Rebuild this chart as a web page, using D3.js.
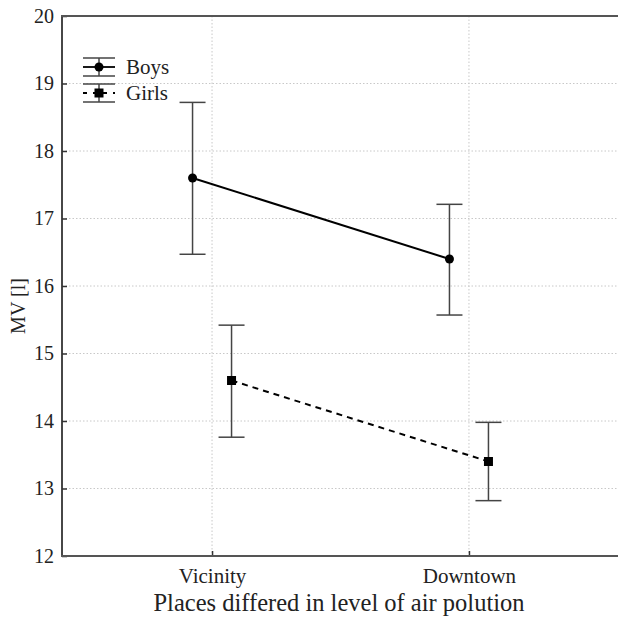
<!DOCTYPE html>
<html><head><meta charset="utf-8">
<script src="https://cdn.jsdelivr.net/npm/d3@7"></script>
<style>body{margin:0;background:#fff}svg{display:block}text{font-family:"Liberation Serif","Times New Roman",serif;fill:#222}</style>
</head><body><svg id="c" width="618" height="618"></svg>
<script>
const categories = ["Vicinity", "Downtown"];
const yTicks = [12, 13, 14, 15, 16, 17, 18, 19, 20];
const boysMean = [17.6, 16.4];
const boysLow = [16.47, 15.57];
const boysHigh = [18.72, 17.21];
const girlsMean = [14.6, 13.4];
const girlsLow = [13.76, 12.82];
const girlsHigh = [15.42, 13.98];
const seriesNames = ["Boys", "Girls"];

const svg = d3.select("#c");
const L = 62, R = 619, T = 16, B = 556;
const x = d3.scalePoint().domain(categories).range([L, R]).padding(0.584);
const y = d3.scaleLinear().domain([12, 20]).range([B, T]);

// grid
const g = svg.append("g");
g.selectAll(".gy").data(yTicks.slice(1, -1)).join("line")
  .attr("x1", L).attr("x2", R).attr("y1", d => y(d)).attr("y2", d => y(d))
  .attr("stroke", "#c8c8c8").attr("stroke-width", 1).attr("stroke-dasharray", "1.5,2");
g.selectAll(".gx").data(categories).join("line")
  .attr("x1", d => x(d)).attr("x2", d => x(d)).attr("y1", T).attr("y2", B)
  .attr("stroke", "#c8c8c8").attr("stroke-width", 1).attr("stroke-dasharray", "1.5,2");

// axes
const yAxis = d3.axisLeft(y).tickValues(yTicks).tickSize(-5).tickPadding(8).tickFormat(d3.format("d"));
const ya = svg.append("g").attr("transform", `translate(${L},0)`).call(yAxis);
ya.select(".domain").remove();
ya.selectAll("line").attr("stroke", "#333").attr("stroke-width", 1.5);
ya.selectAll("text").style("font-size", "20px").attr("fill", "#222");

const xAxis = d3.axisBottom(x).tickSize(-5).tickPadding(12);
const xa = svg.append("g").attr("transform", `translate(0,${B})`).call(xAxis);
xa.select(".domain").remove();
xa.selectAll("line").attr("stroke", "#333").attr("stroke-width", 1.5);
xa.selectAll("text").style("font-size", "21px").attr("fill", "#222");

svg.append("line").attr("x1", L).attr("x2", L).attr("y1", T).attr("y2", B).attr("stroke", "#333").attr("stroke-width", 1.8);
svg.append("line").attr("x1", L - 1).attr("x2", R).attr("y1", B).attr("y2", B).attr("stroke", "#555").attr("stroke-width", 1.8);
svg.append("line").attr("x1", L - 1).attr("x2", R).attr("y1", T).attr("y2", T).attr("stroke", "#555").attr("stroke-width", 1.8);

// titles
svg.append("text").attr("x", 339).attr("y", 611).attr("text-anchor", "middle")
  .style("font-size", "24.5px").text("Places differed in level of air polution");
svg.append("text").attr("transform", `translate(25,${(T + B) / 2 + 20}) rotate(-90)`).attr("text-anchor", "middle")
  .style("font-size", "20px").text("MV [l]");

// series
const series = [
  {name: seriesNames[0], mean: boysMean, lo: boysLow, hi: boysHigh, off: -19.5, dash: null, shape: "circle"},
  {name: seriesNames[1], mean: girlsMean, lo: girlsLow, hi: girlsHigh, off: 19.5, dash: "6,5", shape: "square"}
];
const capW = 13;
series.forEach(s => {
  const pts = categories.map((c, i) => ({cx: x(c) + s.off, m: s.mean[i], lo: s.lo[i], hi: s.hi[i]}));
  const sg = svg.append("g");
  sg.selectAll(".eb").data(pts).join("line")
    .attr("x1", d => d.cx).attr("x2", d => d.cx).attr("y1", d => y(d.lo)).attr("y2", d => y(d.hi))
    .attr("stroke", "#444").attr("stroke-width", 1.5);
  ["lo", "hi"].forEach(k => {
    sg.selectAll(".cap" + k).data(pts).join("line")
      .attr("x1", d => d.cx - capW).attr("x2", d => d.cx + capW).attr("y1", d => y(d[k])).attr("y2", d => y(d[k]))
      .attr("stroke", "#444").attr("stroke-width", 1.5);
  });
  sg.append("path").datum(pts)
    .attr("d", d3.line().x(d => d.cx).y(d => y(d.m)))
    .attr("fill", "none").attr("stroke", "#000").attr("stroke-width", 2)
    .attr("stroke-dasharray", s.dash);
  if (s.shape === "circle") {
    sg.selectAll(".pt").data(pts).join("circle").attr("cx", d => d.cx).attr("cy", d => y(d.m)).attr("r", 4.5).attr("fill", "#000");
  } else {
    sg.selectAll(".pt").data(pts).join("rect").attr("x", d => d.cx - 4.5).attr("y", d => y(d.m) - 4.5)
      .attr("width", 9).attr("height", 9).attr("fill", "#000");
  }
});

// legend
const leg = svg.append("g");
series.forEach((s, i) => {
  const cy = 67 + i * 26, cx = 99;
  const lg = leg.append("g");
  lg.append("line").attr("x1", cx - 16).attr("x2", cx + 16).attr("y1", cy).attr("y2", cy)
    .attr("stroke", "#000").attr("stroke-width", 1.8).attr("stroke-dasharray", s.dash ? "4,6" : null);
  lg.append("line").attr("x1", cx).attr("x2", cx).attr("y1", cy - 9).attr("y2", cy + 9).attr("stroke", "#444").attr("stroke-width", 1.5);
  [-9, 9].forEach(o => lg.append("line").attr("x1", cx - 16).attr("x2", cx + 16).attr("y1", cy + o).attr("y2", cy + o).attr("stroke", "#444").attr("stroke-width", 1.5));
  if (s.shape === "circle") lg.append("circle").attr("cx", cx).attr("cy", cy).attr("r", 4.5).attr("fill", "#000");
  else lg.append("rect").attr("x", cx - 4.5).attr("y", cy - 4.5).attr("width", 9).attr("height", 9).attr("fill", "#000");
  lg.append("text").attr("x", 126).attr("y", cy + 7).style("font-size", "21px").text(s.name);
});
</script></body></html>
